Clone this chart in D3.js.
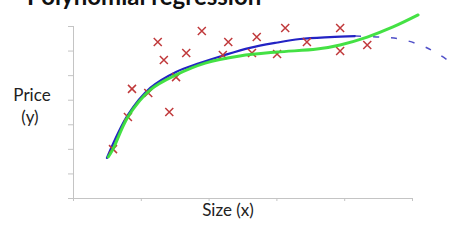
<!DOCTYPE html>
<html>
<head>
<meta charset="utf-8">
<script src="https://cdn.jsdelivr.net/npm/d3@7"></script>
<style>
  body { margin: 0; background: #fff; }
  svg { display: block; font-family: Lato, "Open Sans", sans-serif; }
</style>
</head>
<body>
<div id="chart"></div>
<script>
// training examples (size, price)
var pointX = [0.59, 0.81, 0.87, 1.11, 1.25, 1.34, 1.42, 1.52, 1.67, 1.90, 2.21, 2.29, 2.64, 2.71, 3.01, 3.13, 3.45, 3.94, 3.94, 4.34];
var pointY = [1.99, 3.30, 4.44, 4.27, 6.35, 5.62, 3.50, 4.92, 5.90, 6.80, 5.82, 6.35, 5.90, 6.55, 5.86, 6.92, 6.35, 6.92, 5.98, 6.23];

// quadratic fit (solid part, then the dashed extrapolation)
var quadX = [0.50, 0.81, 1.14, 1.52, 1.87, 2.24, 2.61, 2.98, 3.35, 3.79, 4.16];
var quadY = [1.63, 3.38, 4.48, 5.13, 5.49, 5.82, 6.11, 6.31, 6.47, 6.55, 6.59];
var quadDashX = [4.16, 4.53, 4.82, 5.12, 5.34, 5.59];
var quadDashY = [6.59, 6.55, 6.47, 6.23, 5.94, 5.49];

// cubic fit
var cubicX = [0.52, 0.59, 0.81, 1.14, 1.52, 1.95, 2.46, 3.01, 3.60, 3.94, 4.34, 4.72, 5.09];
var cubicY = [1.67, 1.99, 3.30, 4.40, 5.01, 5.49, 5.78, 5.94, 6.06, 6.23, 6.55, 6.96, 7.45];

var xTicks = [0, 1, 2, 3, 4, 5];
var yTicks = [0, 1, 2, 3, 4, 5, 6, 7];

var width = 452, height = 246;

var svg = d3.select("#chart").append("svg")
  .attr("width", width)
  .attr("height", height);

var x = d3.scaleLinear().domain([0, 5]).range([73, 412]);
var y = d3.scaleLinear().domain([0, 7]).range([198, 26]);

// axes
var xAxis = svg.append("g")
  .attr("transform", "translate(0," + y(0) + ")")
  .call(d3.axisBottom(x).tickValues(xTicks).tickSize(3).tickFormat(""));
var yAxis = svg.append("g")
  .attr("transform", "translate(" + x(0) + ",0)")
  .call(d3.axisLeft(y).tickValues(yTicks).tickSize(5).tickFormat(""));
svg.selectAll(".domain, .tick line").attr("stroke", "#c4c4c4").attr("stroke-width", 1);
xAxis.select(".domain").attr("d", "M" + x(0) + ",0.5H" + x(5));
yAxis.select(".domain").attr("d", "M0.5," + y(7) + "V" + y(0));

// fitted curves
var line = d3.line()
  .x(function(d) { return x(d[0]); })
  .y(function(d) { return y(d[1]); })
  .curve(d3.curveCatmullRom);

svg.append("path")
  .attr("d", line(d3.zip(quadX, quadY)))
  .attr("fill", "none")
  .attr("stroke", "#2323c4")
  .attr("stroke-width", 2.2)
  .attr("stroke-linecap", "round");

svg.append("path")
  .attr("d", line(d3.zip(quadDashX, quadDashY)))
  .attr("fill", "none")
  .attr("stroke", "#5050c8")
  .attr("stroke-width", 1.5)
  .attr("stroke-dasharray", "6,12");

// data points
var s = 4;
svg.append("g").selectAll("path")
  .data(d3.zip(pointX, pointY))
  .enter().append("path")
  .attr("d", function(d) {
    var cx = x(d[0]), cy = y(d[1]);
    return "M" + (cx - s) + "," + (cy - s) + "L" + (cx + s) + "," + (cy + s) +
           "M" + (cx - s) + "," + (cy + s) + "L" + (cx + s) + "," + (cy - s);
  })
  .attr("stroke", "#c0393b")
  .attr("stroke-width", 1.5);

svg.append("path")
  .attr("d", line(d3.zip(cubicX, cubicY)))
  .attr("fill", "none")
  .attr("stroke", "#3adf3a")
  .attr("stroke-width", 3)
  .attr("stroke-linecap", "round")
  .attr("opacity", 0.95);

// labels
svg.append("text")
  .attr("x", 27).attr("y", 5)
  .attr("font-size", 24).attr("font-weight", "bold")
  .attr("fill", "#111")
  .text("Polynomial regression");

svg.append("text")
  .attr("x", 32).attr("y", 101)
  .attr("text-anchor", "middle")
  .attr("font-size", 17).attr("fill", "#222")
  .text("Price");
svg.append("text")
  .attr("x", 30).attr("y", 123)
  .attr("text-anchor", "middle")
  .attr("font-size", 17).attr("fill", "#222")
  .text("(y)");

svg.append("text")
  .attr("x", 228).attr("y", 216)
  .attr("text-anchor", "middle")
  .attr("font-size", 17).attr("fill", "#222")
  .text("Size (x)");
</script>
</body>
</html>
